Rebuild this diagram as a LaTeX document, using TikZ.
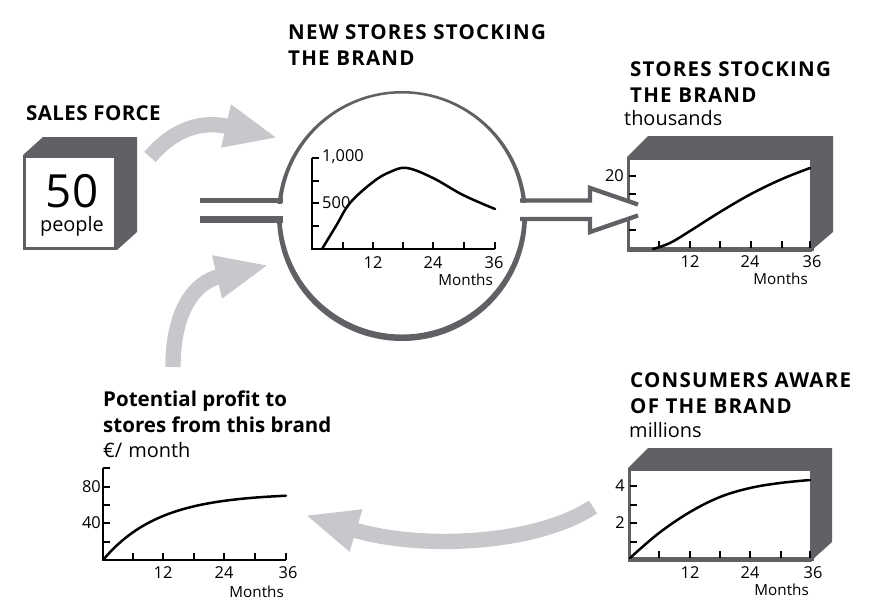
\documentclass[tikz,border=0pt]{standalone}
\usepackage{fontspec}
\setmainfont{Open Sans}
\usetikzlibrary{arrows.meta}
\definecolor{boxgray}{RGB}{96,96,101}
\definecolor{flowgray}{RGB}{200,200,204}

\begin{document}
\begin{tikzpicture}[x=0.03cm,y=-0.03cm,
    flow/.style={flowgray, line width=0.46cm, -{Triangle[length=1.6cm,width=1.2cm]}},
    pipe/.style={boxgray, line width=0.13cm},
    head/.style={font=\fontsize{17.5}{21.5}\selectfont\bfseries, align=left, anchor=base west, inner sep=0pt},
    caps/.style={head, font=\fontsize{17.5}{21.5}\selectfont\bfseries\addfontfeature{LetterSpace=6}},
    unit/.style={font=\fontsize{17}{20}\selectfont, anchor=base west, inner sep=0pt},
    lab/.style={font=\fontsize{14}{16}\selectfont, inner sep=0pt},
    tick/.style={line width=0.035cm},
    axis/.style={line width=0.045cm},
    curve/.style={line width=0.075cm, line cap=round}]
    \useasboundingbox (0,0) rectangle (889,612);

    % sales force box
    \fill[boxgray] (23,155) -- (43,137) -- (137,137) -- (137,232) -- (117,250) -- (117,155) -- cycle;
    \draw[boxgray, fill=white, line width=0.1cm] (24.5,156.5) rectangle (115.5,248.5);
    \node[head, font=\fontsize{17.5}{21.5}\selectfont\bfseries\addfontfeature{LetterSpace=2}] (salesTitle) at (26,120) {SALES FORCE};
    \node[font=\fontsize{39}{39}\selectfont, anchor=base, inner sep=0pt, text depth=0pt] (salesNum) at (72,207) {50};
    \node[font=\fontsize{17}{20}\selectfont, anchor=base, inner sep=0pt, text height=9pt] (salesUnit) at (72,231) {people};

    % circle with the new stores chart
    \fill[boxgray, even odd rule] (402,216) circle (3.75cm) (402,214) circle (3.615cm);
    \fill[white] (270,203.5) rectangle (292,215.5);
    \fill[white] (512,203.5) rectangle (535,215.5);
    \draw[boxgray, line width=0.14cm] (200,200.5) -- (283,200.5);
    \draw[boxgray, line width=0.2cm] (200,219.5) -- (283,219.5);
    \node[caps] (newTitle) at (288,65) {NEW STORES STOCKING\\THE BRAND};
    \draw[axis] (312,158) -- (312,249) -- (495,249);
    \foreach \y in {158,181,203,226} \draw[tick] (312,\y) -- (319,\y);
    \foreach \x in {343,373,403,433,464,495} \draw[tick] (\x,249) -- (\x,242);
    \draw[curve] plot[smooth, tension=0.6] coordinates {(322,249) (336,226) (350,203) (373,182) (390,172) (407,168) (433,178) (463,195) (495,209)};
    \node[lab, anchor=west] (c1000) at (322,157) {1,000};
    \node[lab, anchor=west] (c500) at (322,203) {500};
    \foreach \m/\x in {12/373,24/433,36/494} \node[lab] (c\m) at (\x,263) {\m};
    \node[lab, font=\fontsize{13}{16}\selectfont, anchor=east] (cMonths) at (493,280) {Months};

    % stores stocking box
    \fill[boxgray] (627,157) -- (648,136) -- (833,136) -- (833,232) -- (812,250) -- (812,157) -- cycle;
    \draw[boxgray, fill=white, line width=0.1cm] (628.5,158.5) rectangle (812,249);
    \draw[boxgray, line width=0.13cm] (627,250) -- (812,250);
    \foreach \y in {176,194,212,230} \draw[tick] (629,\y) -- (636,\y);
    \foreach \x in {659,690,720,751,782,810} \draw[tick] (\x,248) -- (\x,241);
    \draw[curve] plot[smooth, tension=0.6] coordinates {(653,249) (670,243) (690,231) (720,212) (751,194) (782,179) (810,168)};
    \node[caps] (stockTitle) at (630,102) {STORES STOCKING\\THE BRAND};
    \node[unit] (stockUnit) at (624,125) {thousands};
    \node[lab, anchor=east] (s20) at (624,176) {20};
    \foreach \m/\x in {12/690,24/750,36/812} \node[lab] (s\m) at (\x,262) {\m};
    \node[lab, font=\fontsize{13}{16}\selectfont, anchor=east] (sMonths) at (808,279) {Months};

    % hollow arrow into the box
    \fill[white] (522,203) -- (590,203) -- (590,190) -- (638,206) -- (638,214) -- (590,230) -- (590,217) -- (522,217) -- cycle;
    \draw[pipe, line join=miter] (520,200.5) -- (590,200.5) -- (590,188) -- (638,204.5);
    \draw[pipe, line join=miter] (520,219) -- (590,219) -- (590,232) -- (638,215.5);

    % consumers aware box
    \fill[boxgray] (628,468) -- (648,448) -- (832,448) -- (832,542) -- (812,560) -- (812,468) -- cycle;
    \draw[boxgray, fill=white, line width=0.1cm] (629.5,469.5) rectangle (812,559);
    \draw[boxgray, line width=0.13cm] (628,560) -- (812,560);
    \foreach \y in {486,505,523,542} \draw[tick] (630,\y) -- (637,\y);
    \foreach \x in {659,690,720,750,781,810} \draw[tick] (\x,558) -- (\x,551);
    \draw[curve] plot[smooth, tension=0.6] coordinates {(630,558) (659,533) (690,512) (720,497) (750,488) (780,483) (810,480)};
    \node[caps] (awareTitle) at (630,413) {CONSUMERS AWARE\\OF THE BRAND};
    \node[unit] (awareUnit) at (629,437) {millions};
    \node[lab, anchor=east] (a4) at (625,486) {4};
    \node[lab, anchor=east] (a2) at (625,523) {2};
    \foreach \m/\x in {12/690,24/750,36/813} \node[lab] (a\m) at (\x,573) {\m};
    \node[lab, font=\fontsize{13}{16}\selectfont, anchor=east] (aMonths) at (809,590) {Months};

    % potential profit chart
    \draw[axis] (103,468) -- (103,560) -- (286,560);
    \foreach \y in {468,487,505,523,542} \draw[tick] (103,\y) -- (110,\y);
    \foreach \x in {133,163,194,224,255,286} \draw[tick] (\x,560) -- (\x,553);
    \draw[curve] plot[domain=0:36, samples=40] ({103+5.08*\x},{560-66.8*(1-exp(-\x/11))});
    \node[head] (profitTitle) at (103,432) {Potential profit to\\stores from this brand};
    \node[unit] (profitUnit) at (103,457) {€/\hspace{0.3em}month};
    \node[lab, anchor=east] (p80) at (101,487) {80};
    \node[lab, anchor=east] (p40) at (101,523) {40};
    \foreach \m/\x in {12/163,24/224,36/288} \node[lab] (p\m) at (\x,573) {\m};
    \node[lab, font=\fontsize{13}{16}\selectfont, anchor=east] (pMonths) at (284,592) {Months};

    % flows
    \coordinate (salesOut) at (150,157);
    \coordinate (circTop) at (278,138);
    \coordinate (profitOut) at (173,367);
    \coordinate (circLow) at (269,265);
    \coordinate (awareOut) at (593,507);
    \coordinate (profitIn) at (305,515);
    \draw[flow] (salesOut) .. controls (173,130) and (200,120) .. (circTop);
    \draw[flow] (profitOut) .. controls (173,310) and (195,282) .. (circLow);
    \draw[flow] (awareOut) .. controls (535,545) and (420,550) .. (profitIn);
\end{tikzpicture}
\end{document}
